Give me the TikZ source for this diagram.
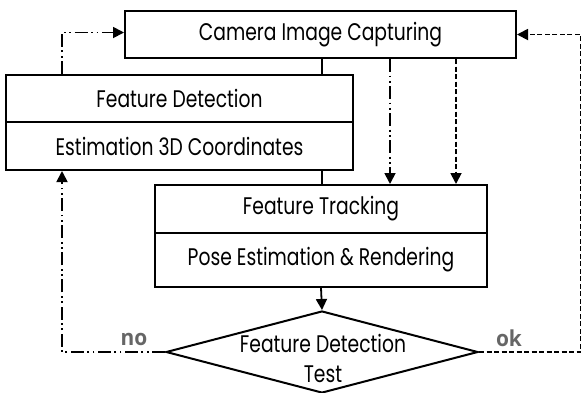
\documentclass[tikz,border=0pt]{standalone}
\usepackage{fontspec}
\setmainfont{Poppins}[FakeStretch=0.78]
\newfontfamily\lblfont{Open Sans}[FakeStretch=0.95]
\usetikzlibrary{arrows.meta,calc,shapes.geometric}
\tikzset{
  box/.style={draw, line width=2pt, inner sep=0pt, font=\fontsize{24}{30}\selectfont},
  conn/.style={line width=1.8pt},
  arr/.style={-{Triangle[length=11pt,width=11pt]}},
  ddot/.style={dash pattern=on 13pt off 3.5pt on 1.8pt off 3.5pt on 1.8pt off 3.5pt},
  dsh/.style={dash pattern=on 5pt off 2.5pt},
  lbl/.style={font=\lblfont\bfseries\fontsize{22}{24}\selectfont, text=black!60},
}
\begin{document}
\begin{tikzpicture}[x=1pt,y=-1pt]
\useasboundingbox (0,0) rectangle (581,392);
% boxes
\node[box, minimum width=391pt, minimum height=47pt] (cam) at (320.5,34.5) {Camera Image Capturing};
\node[box, minimum width=347pt, minimum height=47pt] (fd1) at (179.5,98.5) {Feature Detection};
\node[box, minimum width=347pt, minimum height=48pt] (fd2) at (179.5,146) {Estimation 3D Coordinates};
\node[box, minimum width=332pt, minimum height=48pt] (ft1) at (321,209) {Feature Tracking};
\node[box, minimum width=332pt, minimum height=54pt] (ft2) at (321,260) {Pose Estimation \& Rendering};
\node[draw, line width=2pt, diamond, minimum width=312pt, minimum height=82pt, inner sep=0pt] (test) at (322,352) {};
\node[font=\fontsize{24}{30}\selectfont, align=center] (testtxt) at (323,358) {Feature Detection\\Test};
% labels
\node[lbl] (no) at (134,339) {no};
\node[lbl] (ok) at (509,338) {ok};
% connectors
\draw[conn] ([xshift=1.5pt]cam.south) -- ([xshift=1.5pt]cam.south |- fd1.north);
\draw[conn] ([xshift=1.5pt]cam.south |- fd2.south) -- ([xshift=1.5pt]cam.south |- ft1.north);
\draw[conn, arr] (ft2.south) -- (test.north);
\draw[conn, arr, ddot] ([xshift=69.5pt]cam.south) -- ([xshift=69.5pt]cam.south |- ft1.north);
\draw[conn, arr, dsh] ([xshift=135.5pt]cam.south) -- ([xshift=135.5pt]cam.south |- ft1.north);
\draw[conn, arr, ddot] (test.west) -| ([xshift=57pt]fd2.south west);
\draw[conn, arr, ddot] ([xshift=57pt]fd1.north west) |- ([yshift=2pt]cam.west);
\coordinate (rc) at (580.5,352);
\draw[conn, arr, dsh] (test.east) -- (rc) |- (cam.east);
\end{tikzpicture}
\end{document}
